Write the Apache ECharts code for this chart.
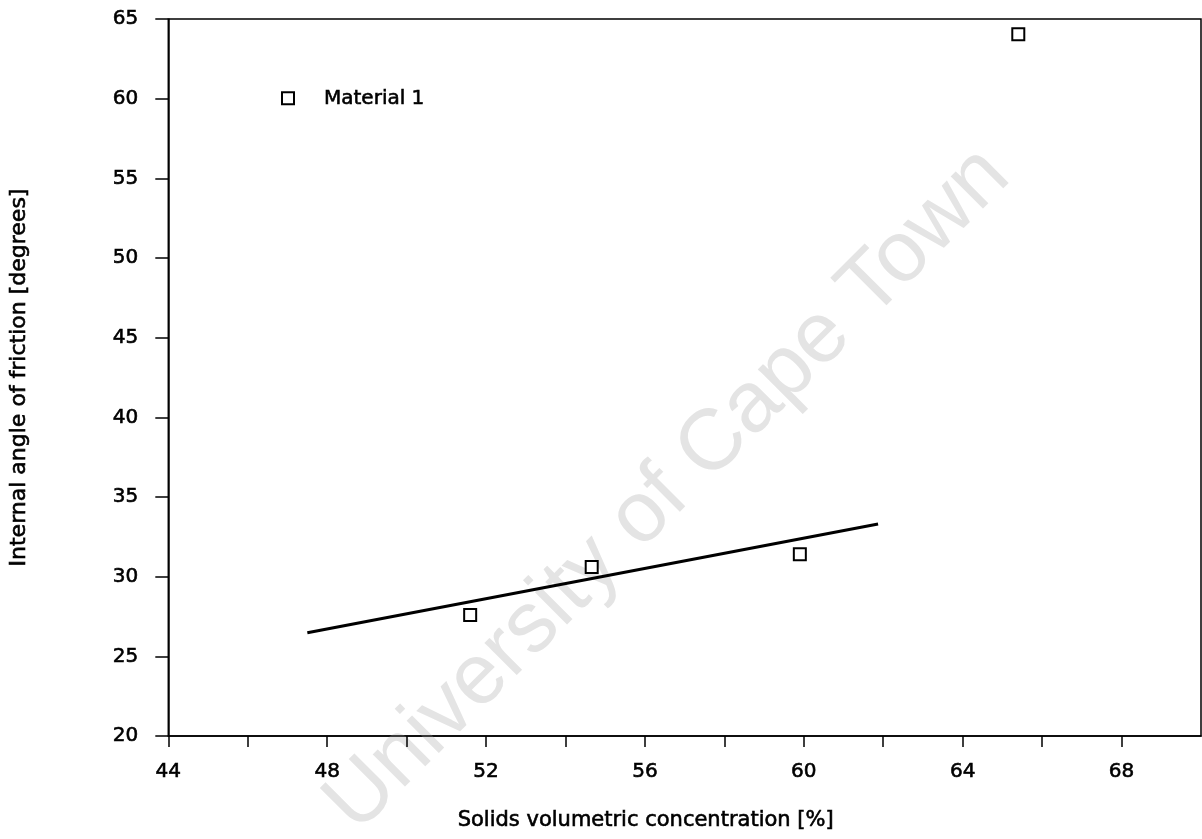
<!DOCTYPE html>
<html>
<head>
<meta charset="utf-8">
<title>Internal angle of friction vs solids concentration</title>
<script src="https://cdn.jsdelivr.net/npm/echarts@6/dist/echarts.min.js"></script>
<style>
  html, body { margin: 0; padding: 0; background: #fff; }
  #chart { width: 1202px; height: 839px; }
</style>
</head>
<body>
<div id="chart"></div>
<script>
// Measured points for Material 1: solids concentration [%] and friction angle [deg]
const concentration = [51.6, 54.66, 59.9, 65.4];
const frictionAngle = [27.6, 30.6, 31.4, 64.05];

// Straight fit line through the lower three points (end points)
const fitConcentration = [47.5, 61.87];
const fitAngle = [26.48, 33.31];

const seriesName = 'Material 1';
const xTitle = 'Solids volumetric concentration [%]';
const yTitle = 'Internal angle of friction [degrees]';
const stampText = 'University of Cape Town';

const FONT = '"DejaVu Sans", sans-serif';
// a thin outline in the text colour gives the heavier plotter-style stroke
const heavy = { textBorderColor: '#000', textBorderWidth: 0.6 };

const chart = echarts.init(document.getElementById('chart'), null, { renderer: 'canvas' });

const option = {
  backgroundColor: '#ffffff',
  animation: false,
  textStyle: { fontFamily: FONT, color: '#000' },
  grid: {
    left: 168, top: 19, right: 1, bottom: 103,
    show: true, borderColor: '#000', borderWidth: 1.5, backgroundColor: 'transparent'
  },
  graphic: [{
    type: 'text',
    z: 0,
    silent: true,
    x: 668, y: 490,
    rotation: Math.PI / 4,
    style: {
      text: stampText,
      font: '86px "Liberation Sans", Arial, sans-serif',
      fill: '#e4e4e4',
      align: 'center',
      verticalAlign: 'middle'
    }
  }],
  legend: {
    data: [{ name: seriesName, icon: 'rect',
             itemStyle: { color: '#fff', borderColor: '#000', borderWidth: 2 } }],
    left: 276, top: 83,
    itemWidth: 12, itemHeight: 12,
    selectedMode: false,
    textStyle: Object.assign({ fontFamily: FONT, fontSize: 20, color: '#000', padding: [0, 0, 0, 25] }, heavy)
  },
  xAxis: {
    type: 'value',
    min: 44, max: 70, interval: 2,
    name: xTitle,
    nameLocation: 'middle',
    nameGap: 74,
    nameTextStyle: Object.assign({ fontFamily: FONT, fontSize: 21, color: '#000', padding: [0, 78, 0, 0] }, heavy),
    axisLine: { show: true, onZero: false, lineStyle: { color: '#000', width: 1.5 } },
    axisTick: { show: true, inside: false, length: 11, lineStyle: { color: '#000', width: 1.5 } },
    axisLabel: Object.assign({
      margin: 26, fontSize: 20, color: '#000', fontFamily: FONT,
      showMaxLabel: false,
      formatter: v => ((v - 44) % 4 === 0 && v < 70) ? String(v) : ''
    }, heavy),
    splitLine: { show: false }
  },
  yAxis: {
    type: 'value',
    min: 20, max: 65, interval: 5,
    name: yTitle,
    nameLocation: 'middle',
    nameRotate: 90,
    nameGap: 138,
    nameTextStyle: Object.assign({ fontFamily: FONT, fontSize: 22, color: '#000' }, heavy),
    axisLine: { show: true, onZero: false, lineStyle: { color: '#000', width: 1.5 } },
    axisTick: { show: true, inside: false, length: 13, lineStyle: { color: '#000', width: 1.5 } },
    axisLabel: Object.assign({ margin: 30, fontSize: 20, color: '#000', fontFamily: FONT }, heavy),
    splitLine: { show: false }
  },
  series: [
    {
      name: seriesName,
      type: 'scatter',
      z: 4,
      symbol: 'rect',
      symbolSize: 12,
      itemStyle: { color: '#fff', borderColor: '#000', borderWidth: 2, opacity: 1 },
      data: concentration.map((x, i) => [x, frictionAngle[i]])
    },
    {
      name: 'fit',
      type: 'line',
      z: 3,
      symbol: 'none',
      lineStyle: { color: '#000', width: 3 },
      data: fitConcentration.map((x, i) => [x, fitAngle[i]])
    }
  ]
};

chart.setOption(option);
</script>
</body>
</html>
